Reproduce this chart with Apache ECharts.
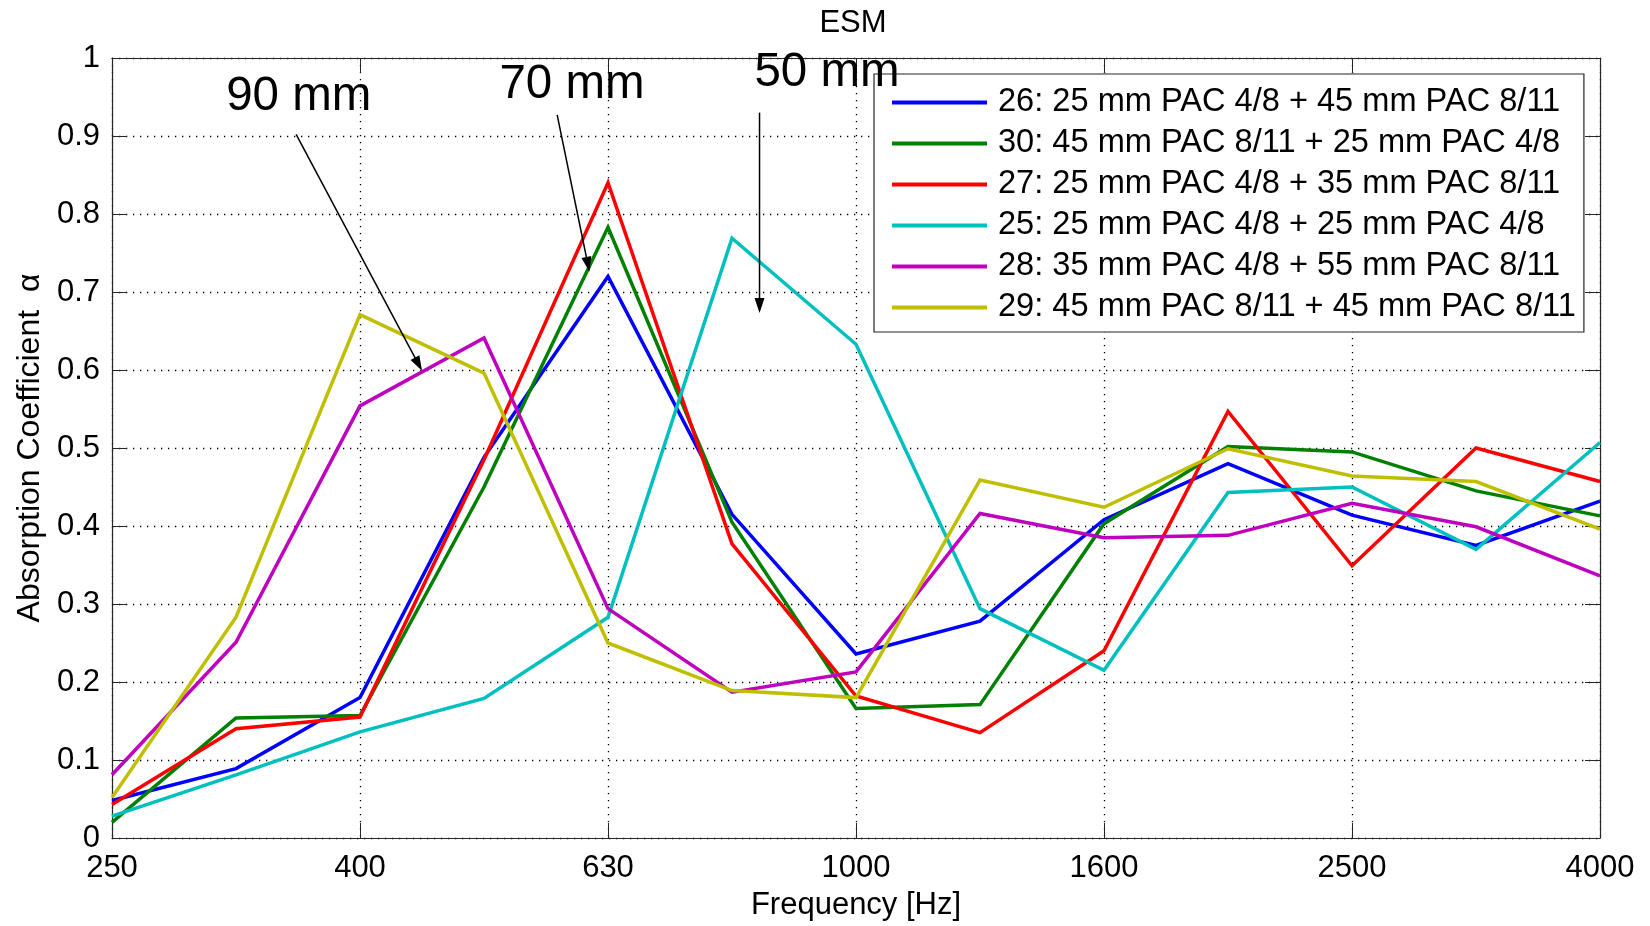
<!DOCTYPE html>
<html>
<head>
<meta charset="utf-8">
<title>ESM</title>
<script src="https://cdn.jsdelivr.net/npm/echarts@6/dist/echarts.min.js"></script>
<style>
  html, body { margin: 0; padding: 0; background: #fff; }
  #chart { width: 1650px; height: 926px; }
</style>
</head>
<body>
<div id="chart"></div>
<script>
// Third-octave band centre frequencies (Hz)
const freqs = ['250', '315', '400', '500', '630', '800', '1000', '1250', '1600', '2000', '2500', '3150', '4000'];

// Absorption coefficient per band for each layered PAC configuration
const names = [
  '26: 25 mm PAC 4/8 + 45 mm PAC 8/11',
  '30: 45 mm PAC 8/11 + 25 mm PAC 4/8',
  '27: 25 mm PAC 4/8 + 35 mm PAC 8/11',
  '25: 25 mm PAC 4/8 + 25 mm PAC 4/8',
  '28: 35 mm PAC 4/8 + 55 mm PAC 8/11',
  '29: 45 mm PAC 8/11 + 45 mm PAC 8/11'
];
const alpha26 = [0.048, 0.089, 0.180, 0.488, 0.720, 0.415, 0.236, 0.278, 0.408, 0.480, 0.414, 0.375, 0.432];
const alpha30 = [0.020, 0.154, 0.157, 0.450, 0.783, 0.405, 0.166, 0.171, 0.403, 0.502, 0.495, 0.445, 0.413];
const alpha27 = [0.043, 0.140, 0.155, 0.485, 0.840, 0.377, 0.182, 0.135, 0.240, 0.547, 0.349, 0.500, 0.457];
const alpha25 = [0.028, 0.081, 0.136, 0.179, 0.283, 0.769, 0.633, 0.294, 0.215, 0.443, 0.450, 0.370, 0.507];
const alpha28 = [0.081, 0.251, 0.554, 0.641, 0.294, 0.187, 0.213, 0.416, 0.385, 0.388, 0.429, 0.399, 0.336];
const alpha29 = [0.052, 0.283, 0.671, 0.596, 0.250, 0.189, 0.180, 0.459, 0.424, 0.499, 0.464, 0.457, 0.396];
const colors = ['#0000ff', '#008000', '#ff0000', '#00bfbf', '#bf00bf', '#bfbf00'];

// Thickness labels with arrows, given in (band index, alpha) space
const notes = [
  { text: '90 mm', at: [1.506, 0.950], from: [1.485, 0.902], to: [2.50, 0.599] },
  { text: '70 mm', at: [3.710, 0.966], from: [3.590, 0.927], to: [3.85, 0.726] },
  { text: '50 mm', at: [5.766, 0.981], from: [5.222, 0.930], to: [5.222, 0.673] }
];

const FONT = '"Liberation Sans", Arial, Helvetica, sans-serif';
const AXIS_COLOR = '#262626';
const allSeries = [alpha26, alpha30, alpha27, alpha25, alpha28, alpha29];

const chart = echarts.init(document.getElementById('chart'), null, { renderer: 'canvas' });

const baseX = {
  type: 'value', min: 0, max: freqs.length - 1, interval: 2
};
const baseY = {
  type: 'value', min: 0, max: 1, interval: 0.1
};
const lineAxis = { show: true, onZero: false, lineStyle: { color: AXIS_COLOR, width: 1.2 } };
const tickAxis = { show: true, inside: true, length: 15, lineStyle: { color: AXIS_COLOR, width: 1 } };
const gridDots = { show: true, lineStyle: { color: '#000', width: 1.3, type: [1.3, 5.7] } };

chart.setOption({
  animation: false,
  backgroundColor: '#fff',
  textStyle: { fontFamily: FONT },
  title: {
    text: 'ESM',
    left: 853,
    top: 8,
    padding: 0,
    textAlign: 'center',
    textStyle: { fontFamily: FONT, fontSize: 31, fontWeight: 'normal', color: '#000' }
  },
  grid: { left: 112, right: 50, top: 58, bottom: 86, containLabel: false },
  xAxis: [
    Object.assign({}, baseX, {
      position: 'bottom',
      name: 'Frequency [Hz]',
      nameLocation: 'middle',
      nameGap: 52,
      nameTextStyle: { fontFamily: FONT, fontSize: 31, color: '#000' },
      axisLine: lineAxis,
      axisTick: tickAxis,
      axisLabel: {
        margin: 15, fontFamily: FONT, fontSize: 31, color: '#000',
        formatter: (v) => freqs[Math.round(v)]
      },
      splitLine: gridDots
    }),
    Object.assign({}, baseX, {
      position: 'top',
      axisLine: lineAxis,
      axisTick: tickAxis,
      axisLabel: { show: false },
      splitLine: { show: false }
    })
  ],
  yAxis: [
    Object.assign({}, baseY, {
      position: 'left',
      name: 'Absorption Coefficient  \u03b1',
      nameLocation: 'middle',
      nameGap: 66,
      nameTextStyle: { fontFamily: FONT, fontSize: 32, color: '#000' },
      axisLine: lineAxis,
      axisTick: tickAxis,
      axisLabel: { margin: 12, fontFamily: FONT, fontSize: 31, color: '#000' },
      splitLine: gridDots
    }),
    Object.assign({}, baseY, {
      position: 'right',
      axisLine: lineAxis,
      axisTick: tickAxis,
      axisLabel: { show: false },
      splitLine: { show: false }
    })
  ],
  legend: {
    orient: 'vertical',
    left: 874,
    top: 74,
    padding: [12, 8, 8, 18],
    itemGap: 8,
    itemWidth: 95,
    itemHeight: 4,
    icon: 'rect',
    backgroundColor: '#fff',
    borderColor: AXIS_COLOR,
    borderWidth: 1.2,
    borderRadius: 0,
    selectedMode: false,
    textStyle: { fontFamily: FONT, fontSize: 32.6, color: '#000', padding: [0, 0, 0, 6] },
    data: names
  },
  series: allSeries.map((vals, k) => ({
    name: names[k],
    type: 'line',
    xAxisIndex: 0,
    yAxisIndex: 0,
    data: vals.map((v, i) => [i, v]),
    symbol: 'none',
    showSymbol: false,
    color: colors[k],
    lineStyle: { color: colors[k], width: 3.5, join: 'miter' },
    z: 2 + k * 0.01
  }))
});

// Annotation arrows and thickness labels, placed through the axis scales
function toPx(p) {
  return chart.convertToPixel({ xAxisIndex: 0, yAxisIndex: 0 }, p);
}
const graphics = [];
notes.forEach((n) => {
  const a = toPx(n.from);
  const b = toPx(n.to);
  const dx = b[0] - a[0], dy = b[1] - a[1];
  const len = Math.hypot(dx, dy);
  const ux = dx / len, uy = dy / len;
  const headLen = 15, headHalf = 5;
  const base = [b[0] - ux * headLen, b[1] - uy * headLen];
  graphics.push({
    type: 'line', z: 100, silent: true,
    shape: { x1: a[0], y1: a[1], x2: base[0] + ux * 2, y2: base[1] + uy * 2 },
    style: { stroke: '#000', lineWidth: 1.5 }
  });
  graphics.push({
    type: 'polygon', z: 100, silent: true,
    shape: { points: [b, [base[0] - uy * headHalf, base[1] + ux * headHalf], [base[0] + uy * headHalf, base[1] - ux * headHalf]] },
    style: { fill: '#000' }
  });
  const t = toPx(n.at);
  graphics.push({
    type: 'text', z: 101, silent: true,
    x: t[0], y: t[1],
    style: {
      text: n.text, fill: '#000', fontFamily: FONT, fontSize: 47.5,
      align: 'center', verticalAlign: 'middle'
    }
  });
});
chart.setOption({ graphic: graphics });
</script>
</body>
</html>
